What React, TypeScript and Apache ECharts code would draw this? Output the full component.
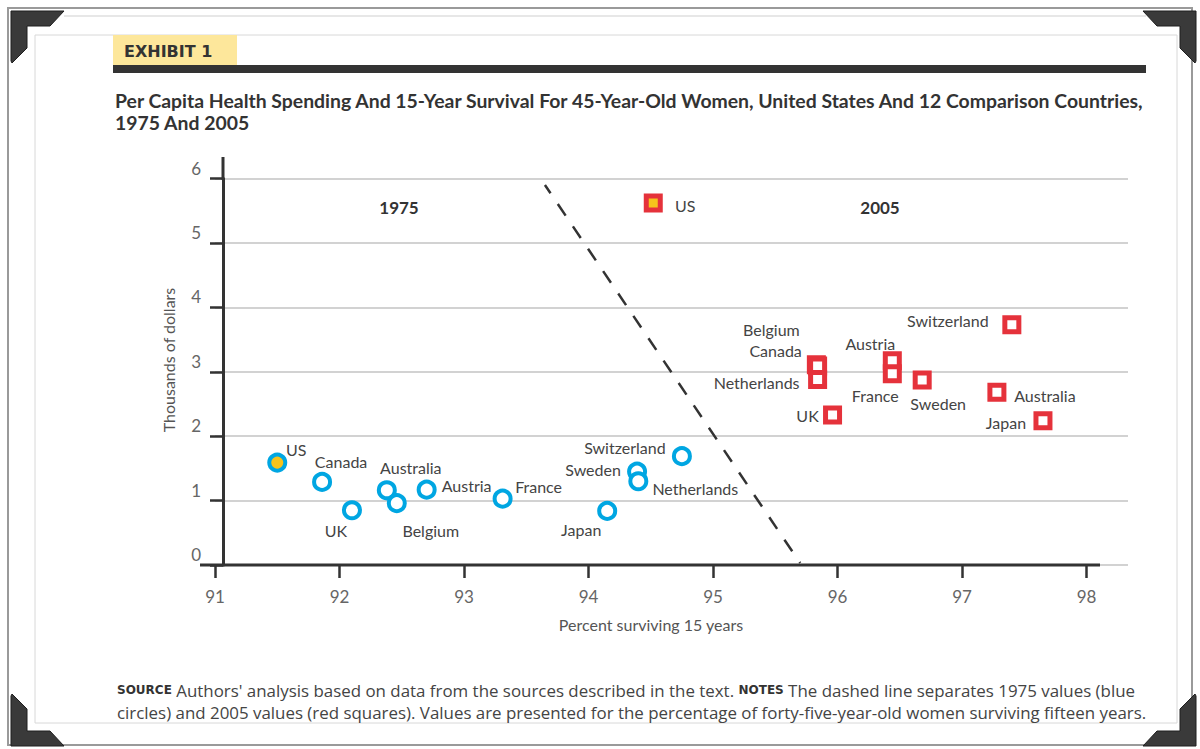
import React, { useEffect, useRef } from "react";
import * as echarts from "echarts";

// ---- Data ----
const countries1975 = ["US", "Canada", "UK", "Australia", "Belgium", "Austria", "France", "Japan", "Sweden", "Netherlands", "Switzerland"];
const survival1975 = [91.5, 91.86, 92.1, 92.38, 92.46, 92.7, 93.31, 94.15, 94.39, 94.4, 94.75];
const spending1975 = [1.59, 1.29, 0.85, 1.16, 0.96, 1.17, 1.03, 0.84, 1.45, 1.3, 1.69];

const countries2005 = ["US", "Switzerland", "Belgium", "Canada", "Netherlands", "Austria", "France", "Sweden", "Australia", "Japan", "UK"];
const survival2005 = [94.52, 97.4, 95.83, 95.84, 95.84, 96.44, 96.44, 96.68, 97.28, 97.65, 95.96];
const spending2005 = [5.62, 3.73, 3.11, 3.09, 2.88, 3.17, 2.97, 2.87, 2.68, 2.24, 2.33];

const dividerSurvival = [93.65, 95.7];
const dividerSpending = [5.9, 0.03];

const xTicks = [91, 92, 93, 94, 95, 96, 97, 98];
const yTicks = [0, 1, 2, 3, 4, 5, 6];

// ---- Styling (label placement, colours) ----
const labelOffset1975: Record<string, number[]> = {
  US: [19, -13], Canada: [19, -20], UK: [-16, 20], Australia: [24, -23], Belgium: [34, 27],
  Austria: [40, -4], France: [36, -12], Japan: [-26, 19], Sweden: [-44, -2], Netherlands: [57, 7], Switzerland: [-57, -9],
};
const labelOffset2005: Record<string, number[]> = {
  US: [32, 3], Switzerland: [-64, -4], Belgium: [-45, -35], Canada: [-42, -15], Netherlands: [-61, 3],
  Austria: [-22, -17], France: [-17, 22], Sweden: [16, 23], Australia: [48, 3], Japan: [-37, 2], UK: [-25, 1],
};

const BLUE = "#00a6e2";
const RED = "#e5323b";
const YELLOW = "#f6c31c";
const TEXT = "#444";
const FONT = "Lato, 'Open Sans', sans-serif";
const FOOT_FONT = "'Open Sans', Lato, sans-serif";

function corner(ax: number, ay: number, sx: number, sy: number) {
  const pts = [[0, 0], [53, 0], [39, 15], [16, 15], [16, 37], [1, 52], [0, 50]];
  return {
    type: "polygon",
    shape: { points: pts.map(([px, py]) => [ax + sx * px, ay + sy * py]) },
    style: { fill: "#3a3a3a", stroke: "#1e1e1e", lineWidth: 1 },
    z: 100,
  };
}

export default function App() {
  const ref = useRef<HTMLDivElement>(null);

  useEffect(() => {
    document.body.style.margin = "0";
    if (!ref.current) return;
    const chart = echarts.init(ref.current, null, { renderer: "svg" });

    const data1975 = countries1975.map((name, i) => ({
      name,
      value: [survival1975[i], spending1975[i]],
      itemStyle: name === "US" ? { color: YELLOW } : undefined,
      label: { offset: labelOffset1975[name] },
    }));
    const data2005 = countries2005.map((name, i) => ({
      name,
      value: [survival2005[i], spending2005[i]],
      itemStyle: name === "US" ? { color: YELLOW } : undefined,
      label: { offset: labelOffset2005[name] },
    }));

    const labelStyle = {
      show: true,
      formatter: "{b}",
      position: "inside",
      color: TEXT,
      fontSize: 16,
      fontFamily: FONT,
    };

    const footer1 = "{sc|SOURCE} Authors' analysis based on data from the sources described in the text. {sc|NOTES} The dashed line separates 1975 values (blue";
    const footer2 = "circles) and 2005 values (red squares). Values are presented for the percentage of forty-five-year-old women surviving fifteen years.";

    chart.setOption({
      animation: false,
      backgroundColor: "#ffffff",
      grid: { left: 215, right: 72, top: 178.5, bottom: 184 },
      xAxis: {
        type: "value",
        min: 91,
        max: 98.333,
        interval: 1,
        axisLine: { show: false },
        axisTick: { show: true, length: 13, customValues: xTicks, lineStyle: { color: "#333", width: 2.5 } },
        axisLabel: { customValues: xTicks, margin: 23, fontSize: 17, color: "#666", fontFamily: FONT },
        splitLine: { show: false },
      },
      yAxis: {
        type: "value",
        min: 0,
        max: 6,
        interval: 1,
        offset: -8,
        axisLine: { show: true, lineStyle: { color: "#333", width: 3 } },
        axisTick: { show: true, length: 13, customValues: yTicks, lineStyle: { color: "#333", width: 2.5 } },
        axisLabel: { customValues: yTicks, margin: 22, fontSize: 17, color: "#666", fontFamily: FONT, verticalAlign: "bottom", padding: [0, 0, 2, 0] },
        splitLine: { show: true, lineStyle: { color: "#d2d2d2", width: 2 } },
      },
      series: [
        {
          type: "line",
          data: dividerSurvival.map((x, i) => [x, dividerSpending[i]]),
          symbol: "none",
          lineStyle: { color: "#333", width: 2.5, type: [14, 13], dashOffset: 4 },
          z: 1,
          silent: true,
        },
        {
          type: "scatter",
          name: "1975",
          data: data1975,
          symbol: "circle",
          symbolSize: 16,
          itemStyle: { color: "#ffffff", borderColor: BLUE, borderWidth: 4, opacity: 1 },
          label: labelStyle,
          z: 3,
        },
        {
          type: "scatter",
          name: "2005",
          data: data2005,
          symbol: "rect",
          symbolSize: 14,
          itemStyle: { color: "#ffffff", borderColor: RED, borderWidth: 5, opacity: 1 },
          label: labelStyle,
          z: 3,
        },
      ],
      graphic: [
        // frame
        { type: "rect", shape: { x: 8, y: 8, width: 1184, height: 737 }, style: { fill: "none", stroke: "#9a9a9a", lineWidth: 2 }, z: 90 },
        { type: "line", shape: { x1: 64, y1: 16, x2: 1146, y2: 16 }, style: { stroke: "#cfcfcf", lineWidth: 1 }, z: 90 },
        { type: "rect", shape: { x: 35, y: 35, width: 1142, height: 688 }, style: { fill: "none", stroke: "#d8d8d8", lineWidth: 1 }, z: 90 },
        corner(11, 11, 1, 1),
        corner(1196, 11, -1, 1),
        corner(11, 746, 1, -1),
        corner(1196, 746, -1, -1),
        // header
        { type: "rect", shape: { x: 113, y: 35, width: 124, height: 31 }, style: { fill: "#fde79b" }, z: 95 },
        {
          type: "text", x: 124, y: 51, z: 96,
          style: { text: "EXHIBIT 1", font: "900 16px 'DejaVu Sans', sans-serif", fill: "#333", align: "left", verticalAlign: "middle" },
        },
        { type: "rect", shape: { x: 113, y: 65, width: 1033, height: 8 }, style: { fill: "#333" }, z: 96 },
        {
          type: "text", x: 115, y: 100, z: 96,
          style: { text: "Per Capita Health Spending And 15-Year Survival For 45-Year-Old Women, United States And 12 Comparison Countries,", font: `bold 19.4px ${FONT}`, fill: "#333", align: "left", verticalAlign: "middle" },
        },
        {
          type: "text", x: 115, y: 122, z: 96,
          style: { text: "1975 And 2005", font: `bold 19.4px ${FONT}`, fill: "#333", align: "left", verticalAlign: "middle" },
        },
        // period labels
        { type: "text", x: 399, y: 207, z: 96, style: { text: "1975", font: `bold 17px ${FONT}`, fill: "#333", align: "center", verticalAlign: "middle" } },
        { type: "text", x: 880, y: 207, z: 96, style: { text: "2005", font: `bold 17px ${FONT}`, fill: "#333", align: "center", verticalAlign: "middle" } },
        // axis lines
        { type: "line", shape: { x1: 200, y1: 565, x2: 1100, y2: 565 }, style: { stroke: "#333", lineWidth: 3 }, z: 50 },
        { type: "line", shape: { x1: 223, y1: 157, x2: 223, y2: 180 }, style: { stroke: "#333", lineWidth: 3 }, z: 50 },
        // axis names
        { type: "text", x: 651, y: 624, z: 96, style: { text: "Percent surviving 15 years", font: `16px ${FONT}`, fill: "#555", align: "center", verticalAlign: "middle" } },
        { type: "text", x: 168, y: 360, rotation: Math.PI / 2, z: 96, style: { text: "Thousands of dollars", font: `16px ${FONT}`, fill: "#555", align: "center", verticalAlign: "middle" } },
        // footer
        {
          type: "text", x: 117, y: 690, z: 96,
          style: {
            text: footer1, fontSize: 16.9, fontFamily: FOOT_FONT, fill: TEXT, align: "left", verticalAlign: "middle",
            rich: { sc: { fontSize: 12, fontWeight: 900, fontFamily: "'DejaVu Sans', sans-serif", fill: "#333" } },
          },
        },
        {
          type: "text", x: 117, y: 712, z: 96,
          style: { text: footer2, fontSize: 16.9, fontFamily: FOOT_FONT, fill: TEXT, align: "left", verticalAlign: "middle" },
        },
      ],
    });

    return () => chart.dispose();
  }, []);

  return <div ref={ref} style={{ width: 1200, height: 749 }} />;
}
